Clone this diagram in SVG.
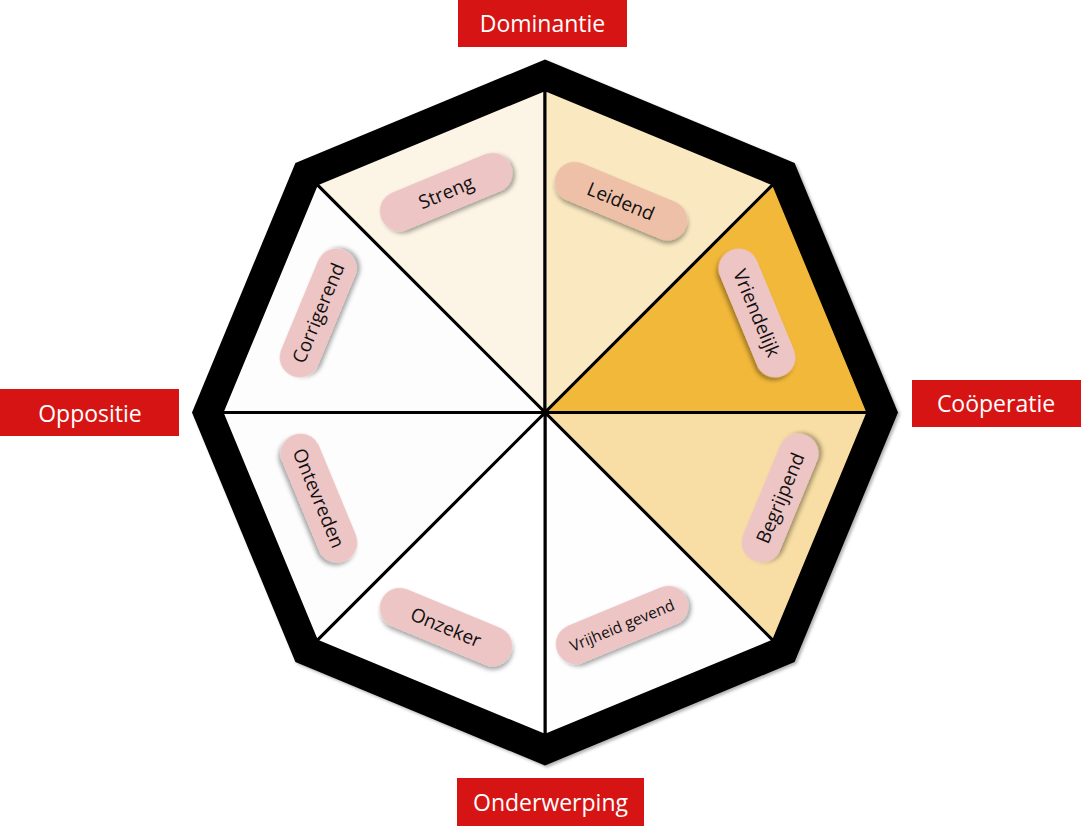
<svg xmlns="http://www.w3.org/2000/svg" width="1081" height="826" viewBox="0 0 1081 826">
<defs>
<filter id="sh" x="-20%" y="-40%" width="140%" height="180%">
<feDropShadow dx="2" dy="3" stdDeviation="2" flood-color="#000" flood-opacity="0.35"/>
</filter>
<filter id="sh2" x="-5%" y="-5%" width="110%" height="110%">
<feDropShadow dx="2" dy="2" stdDeviation="1.5" flood-color="#000" flood-opacity="0.3"/>
</filter>
</defs>
<style>
.seg{stroke:#000;stroke-width:3;stroke-linejoin:miter}
.pill{fill:#EEC5C5}
.pt{font-family:"Open Sans","Liberation Sans",sans-serif;font-size:19px;fill:#111;text-anchor:middle;dominant-baseline:central}
.box{fill:#D71414}
.bt{font-family:"Open Sans","Liberation Sans",sans-serif;font-size:23px;fill:#fff;text-anchor:middle;dominant-baseline:central}
</style>
<rect width="1081" height="826" fill="#fff"/>
<g id="octagon">
<polygon points="545,59.5 794.6,162.9 898,412.5 794.6,662.1 545,765.5 295.4,662.1 192,412.5 295.4,162.9" fill="#000" filter="url(#sh2)"/>
</g>
<g id="segments">
<polygon class="seg" points="545,412.5 316.6,184.1 545,89.5" fill="#FCF4E4"/>
<polygon class="seg" points="545,412.5 545,89.5 773.4,184.1" fill="#F9E8C0"/>
<polygon class="seg" points="545,412.5 773.4,184.1 868,412.5" fill="#F2B83A"/>
<polygon class="seg" points="545,412.5 868,412.5 773.4,640.9" fill="#F8DEA4"/>
<polygon class="seg" points="545,412.5 773.4,640.9 545,735.5" fill="#FEFEFE"/>
<polygon class="seg" points="545,412.5 545,735.5 316.6,640.9" fill="#FFFFFF"/>
<polygon class="seg" points="545,412.5 316.6,640.9 222,412.5" fill="#FDFDFD"/>
<polygon class="seg" points="545,412.5 222,412.5 316.6,184.1" fill="#FDFDFD"/>
</g>
<g id="streng" transform="translate(446,192) rotate(-22.5)">
<rect class="pill" x="-70" y="-20" width="140" height="40" rx="20" filter="url(#sh)"/>
<text class="pt" x="0" y="0">Streng</text>
</g>
<g id="leidend" transform="translate(621,201) rotate(22.5)">
<rect class="pill" x="-70" y="-20" width="140" height="40" rx="20" style="fill:#EEC0A8" filter="url(#sh)"/>
<text class="pt" x="0" y="0">Leidend</text>
</g>
<g id="vriendelijk" transform="translate(757,313) rotate(67.5)">
<rect class="pill" x="-68" y="-20" width="136" height="40" rx="20" filter="url(#sh)"/>
<text class="pt" x="0" y="0">Vriendelijk</text>
</g>
<g id="begrijpend" transform="translate(780,498) rotate(-67.5)">
<rect class="pill" x="-68" y="-20" width="136" height="40" rx="20" filter="url(#sh)"/>
<text class="pt" x="0" y="0">Begrijpend</text>
</g>
<g id="vrijheid" transform="translate(622,625) rotate(-22.5)">
<rect class="pill" x="-70" y="-20" width="140" height="40" rx="20" filter="url(#sh)"/>
<text class="pt" x="0" y="0" style="font-size:15.5px">Vrijheid gevend</text>
</g>
<g id="onzeker" transform="translate(446,627) rotate(22.5)">
<rect class="pill" x="-70" y="-20" width="140" height="40" rx="20" filter="url(#sh)"/>
<text class="pt" x="0" y="0">Onzeker</text>
</g>
<g id="ontevreden" transform="translate(319,498) rotate(67.5)">
<rect class="pill" x="-68" y="-20" width="136" height="40" rx="20" filter="url(#sh)"/>
<text class="pt" x="0" y="0">Ontevreden</text>
</g>
<g id="corrigerend" transform="translate(318,313) rotate(-67.5)">
<rect class="pill" x="-68" y="-20" width="136" height="40" rx="20" filter="url(#sh)"/>
<text class="pt" x="0" y="0">Corrigerend</text>
</g>
<g id="dominantie">
<rect class="box" x="458" y="0" width="169" height="47"/>
<text class="bt" x="542.5" y="23">Dominantie</text>
</g>
<g id="cooperatie">
<rect class="box" x="912" y="380" width="169" height="47"/>
<text class="bt" x="996" y="403">Coöperatie</text>
</g>
<g id="oppositie">
<rect class="box" x="0" y="389" width="179" height="47"/>
<text class="bt" x="90" y="413">Oppositie</text>
</g>
<g id="onderwerping">
<rect class="box" x="457" y="778" width="187" height="48"/>
<text class="bt" x="550.5" y="802">Onderwerping</text>
</g>
</svg>
